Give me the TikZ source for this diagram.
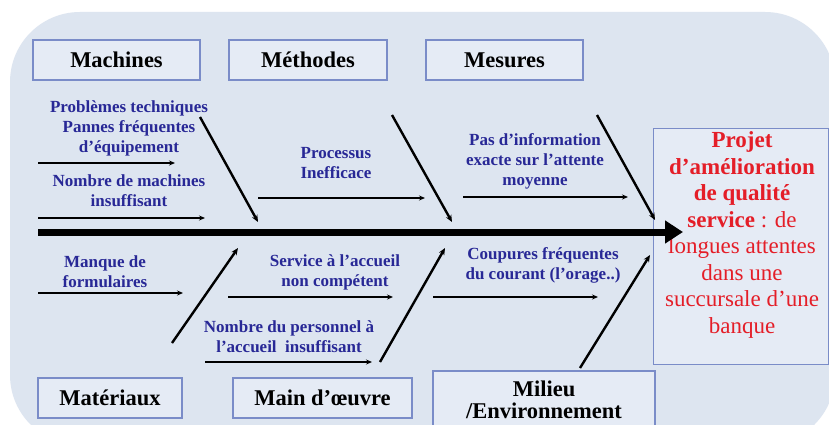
\documentclass[tikz,border=0pt]{standalone}
\usepackage{fontspec}
\setmainfont{Liberation Serif}
\usetikzlibrary{arrows.meta}
\definecolor{fondbleu}{RGB}{221,229,240}
\definecolor{fondcase}{RGB}{229,235,245}
\definecolor{cadre}{RGB}{122,140,200}
\definecolor{causebleu}{RGB}{40,40,150}
\definecolor{effetrouge}{RGB}{228,30,40}

\begin{document}
\begin{tikzpicture}[x=1pt,y=-1pt,
  categorie/.style={draw=cadre, fill=fondcase, line width=1.3pt, inner sep=0pt, font=\fontsize{22.5}{22}\selectfont\bfseries, align=center},
  cause/.style={text=causebleu, font=\fontsize{17}{20}\selectfont\bfseries, align=center, inner sep=0pt},
  arete/.style={line width=2.4pt, -{Stealth[length=7pt,width=6pt]}},
  fleche/.style={line width=1.3pt, -{Stealth[length=6pt,width=5pt]}}]
			%%%%% START %%%%%
			\clip (0,0) rectangle (829,425);
			\fill[white] (0,0) rectangle (829,425);
			\fill[fondbleu, rounded corners=70pt] (10,12) rectangle (835,445);
			
			\node[categorie, minimum width=167pt, minimum height=40pt] (machines) at (116.5,60) {Machines};
			\node[categorie, minimum width=158pt, minimum height=40pt] (methodes) at (308,60) {Méthodes};
			\node[categorie, minimum width=157pt, minimum height=40pt] (mesures) at (504.5,60) {Mesures};
			\node[categorie, minimum width=144pt, minimum height=40pt] (materiaux) at (110,398) {Matériaux};
			\node[categorie, minimum width=179pt, minimum height=40pt] (maindoeuvre) at (322.5,398) {Main d'œuvre};
			\node[categorie, minimum width=222pt, minimum height=58pt] (milieu) at (544,400) {Milieu\\/Environnement};
			
			\node[draw=cadre, fill=fondcase, line width=1pt, minimum width=175pt, minimum height=236pt] (effet) at (740.5,246) {};
			\node[text=effetrouge, font=\fontsize{23}{26.5}\selectfont, align=center, inner sep=0pt] (effettexte) at (742,235)
				{\textbf{Projet}\\\textbf{d'amélioration}\\\textbf{de qualité}\\\textbf{service} : de\\longues attentes\\dans une\\succursale d'une\\banque};
			
			\coordinate (queue) at (38,232);
			\coordinate (tete) at (683,232);
			\draw[line width=7pt, -{Triangle[length=18pt,width=22pt]}] (queue) -- (tete);
			
			\draw[arete] (200,117) -- (258,222);
			\draw[arete] (392,115) -- (452,222);
			\draw[arete] (597,115) -- (655,220);
			\draw[arete] (172,343) -- (238,248);
			\draw[arete] (380,362) -- (445,248);
			\draw[arete] (580,368) -- (650,255);
			
			\node[cause] (pannes) at (129,128) {Problèmes techniques\\Pannes fréquentes\\d'équipement};
			\draw[fleche] (38,163) -- (175,163);
			\node[cause] (nbmachines) at (129,191) {Nombre de machines\\insuffisant};
			\draw[fleche] (38,218) -- (205,218);
			
			\node[cause] (processus) at (336,163) {Processus\\Inefficace};
			\draw[fleche] (258,198) -- (425,198);
			
			\node[cause] (information) at (535,161) {Pas d'information\\exacte sur l'attente\\moyenne};
			\draw[fleche] (463,197) -- (628,197);
			
			\node[cause] (formulaires) at (105,272) {Manque de\\formulaires};
			\draw[fleche] (38,293) -- (183,293);
			
			\node[cause] (accueil) at (335,272) {Service à l'accueil\\non compétent};
			\draw[fleche] (228,297) -- (393,297);
			\node[cause] (personnel) at (289,337) {Nombre du personnel à\\l'accueil\ \ insuffisant};
			\draw[fleche] (205,362) -- (372,362);
			
			\node[cause] (coupures) at (543,265) {Coupures fréquentes\\du courant (l'orage..)};
			\draw[fleche] (433,297) -- (598,297);
			%%%%% END %%%%%
\end{tikzpicture}
\end{document}
